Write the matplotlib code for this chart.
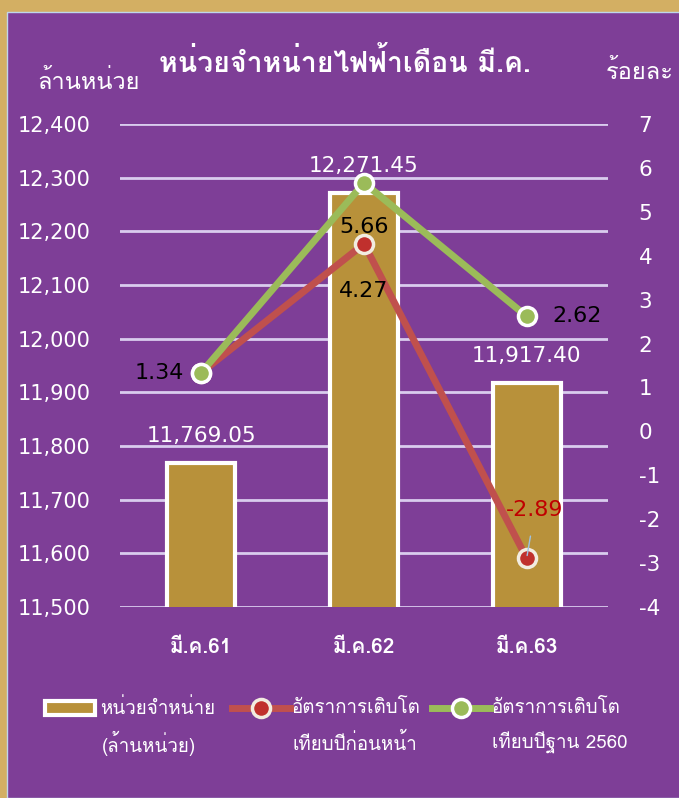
import matplotlib
matplotlib.use("Agg")
import matplotlib.pyplot as plt
from matplotlib import font_manager
from matplotlib.ft2font import FT2Font
from matplotlib.patches import Rectangle
from matplotlib.lines import Line2D

# หา font ที่มีอักษรไทย
thai_font = None
for f in font_manager.fontManager.ttflist:
    try:
        if 0x0E2B in FT2Font(f.fname).get_charmap():
            thai_font = f.name
            break
    except Exception:
        pass
families = ([thai_font] if thai_font else []) + ['DejaVu Sans']
plt.rcParams['font.family'] = families
plt.rcParams['axes.unicode_minus'] = False

# ข้อมูล
months = ["มี.ค.61", "มี.ค.62", "มี.ค.63"]
units = [11769.05, 12271.45, 11917.40]
growth_prev = [1.34, 4.27, -2.89]
growth_base = [1.34, 5.66, 2.62]
left_ticks = [11500, 11600, 11700, 11800, 11900, 12000, 12100, 12200, 12300, 12400]
right_ticks = list(range(-4, 8))

purple = '#7E3E97'
gold = '#B8913A'
red = '#C0504D'
green = '#9BBB59'
grid_c = '#D9CCEE'
num_font = ['DejaVu Sans']

fig = plt.figure(figsize=(6.79, 7.98), dpi=100)
fig.patch.set_facecolor('#D3AF63')
fig.add_artist(Rectangle((7/679, 0), 1, 1 - 12/798, transform=fig.transFigure,
                         facecolor=purple, edgecolor='#BFD7EA', linewidth=1, zorder=-5))

ax = fig.add_axes([120/679, 1 - 607/798, 488/679, 483/798])
ax.set_facecolor('none')
x = list(range(len(months)))
ax.bar(x, units, width=0.42, color=gold, edgecolor='white', linewidth=3, zorder=2)
ax.set_xlim(-0.5, 2.5)
ax.set_ylim(11500, 12400)
ax.set_yticks(left_ticks)
ax.set_yticklabels([f"{v:,}" for v in left_ticks], family=num_font)
ax.yaxis.grid(True, color=grid_c, linewidth=2, zorder=0)
ax.set_axisbelow(True)
ax.set_xticks(x)
ax.set_xticklabels(months, fontsize=15, fontweight='bold', color='white')
ax.tick_params(axis='x', length=0, pad=22)
ax.tick_params(axis='y', length=0, labelsize=15, labelcolor='white', pad=21)
for s in ax.spines.values():
    s.set_visible(False)

ax2 = ax.twinx()
ax2.set_ylim(-4, 7)
ax2.set_yticks(right_ticks)
ax2.set_yticklabels([str(v) for v in right_ticks], family=num_font)
ax2.tick_params(axis='y', length=0, labelsize=15.5, labelcolor='white', pad=22)
for s in ax2.spines.values():
    s.set_visible(False)
ax2.plot(x, growth_prev, color=red, linewidth=5, marker='o', markersize=13,
         markerfacecolor='#C0302D', markeredgecolor='#F2ECE0', markeredgewidth=2.5, zorder=3)
ax2.plot(x, growth_base, color=green, linewidth=5, marker='o', markersize=13,
         markerfacecolor=green, markeredgecolor='white', markeredgewidth=2.5, zorder=4)

# ป้ายค่า
for i, v in enumerate(units):
    ax.annotate(f"{v:,.2f}", (i, v), xytext=(0, 12), textcoords='offset points',
                ha='center', va='bottom', color='white', fontsize=15.5, family=num_font)
lab = dict(textcoords='offset points', ha='center', va='center', fontsize=16, family=num_font)
ax2.annotate(f"{growth_base[0]:.2f}", (0, growth_base[0]), xytext=(-30, 0), color='black', **lab)
ax2.annotate(f"{growth_base[1]:.2f}", (1, growth_prev[1]), xytext=(0, 12), color='black', **lab)
ax2.annotate(f"{growth_prev[1]:.2f}", (1, growth_prev[1]), xytext=(0, -34), color='black', **lab)
ax2.annotate(f"{growth_base[2]:.2f}", (2, growth_base[2]), xytext=(36, 0), color='black',
             arrowprops=dict(arrowstyle='-', color='#9DC3E6', lw=1, shrinkA=16, shrinkB=2), **lab)
ax2.annotate(f"{growth_prev[2]:.2f}", (2, growth_prev[2]), xytext=(6, 35), color='#C00000',
             arrowprops=dict(arrowstyle='-', color='#9DC3E6', lw=1, shrinkA=10, shrinkB=2), **lab)

# ชื่อกราฟและหน่วย
fig.text(345/679, 1 - 62/798, "หน่วยจำหน่ายไฟฟ้าเดือน มี.ค.", ha='center', va='center',
         color='white', fontsize=20.5, fontweight='bold')
fig.text(88/679, 1 - 82/798, "ล้านหน่วย", ha='center', va='center', color='white', fontsize=17)
fig.text(640/679, 1 - 72/798, "ร้อยละ", ha='center', va='center', color='white', fontsize=17)

# คำอธิบาย
ly1 = 1 - 708/798
ly2 = 1 - 743/798
fig.add_artist(Rectangle((45/679, ly1 - 7/798), 50/679, 14/798, transform=fig.transFigure,
                         facecolor=gold, edgecolor='white', linewidth=3))
fig.text(100/679, ly1, "หน่วยจำหน่าย", ha='left', va='center', color='white', fontsize=13.5)
fig.text(102/679, ly2, "(ล้านหน่วย)", ha='left', va='center', color='white', fontsize=13.5)
for x0, c, fc, ec, t1, t2 in [(232, red, '#C0302D', '#F2ECE0', "อัตราการเติบโต", "เทียบปีก่อนหน้า"),
                              (432, green, green, 'white', "อัตราการเติบโต", "เทียบปีฐาน 2560")]:
    fig.add_artist(Line2D([x0/679, (x0 + 58)/679], [ly1, ly1], transform=fig.transFigure,
                          color=c, linewidth=5))
    fig.add_artist(Line2D([(x0 + 29)/679], [ly1], transform=fig.transFigure, marker='o',
                          markersize=13, markerfacecolor=fc, markeredgecolor=ec, markeredgewidth=2.5))
    fig.text((x0 + 60)/679, ly1, t1, ha='left', va='center', color='white', fontsize=13.5)
    fig.text((x0 + 60)/679, ly2, t2, ha='left', va='center', color='white', fontsize=13.5)

fig.savefig("out.png", dpi=100, facecolor=fig.get_facecolor())
